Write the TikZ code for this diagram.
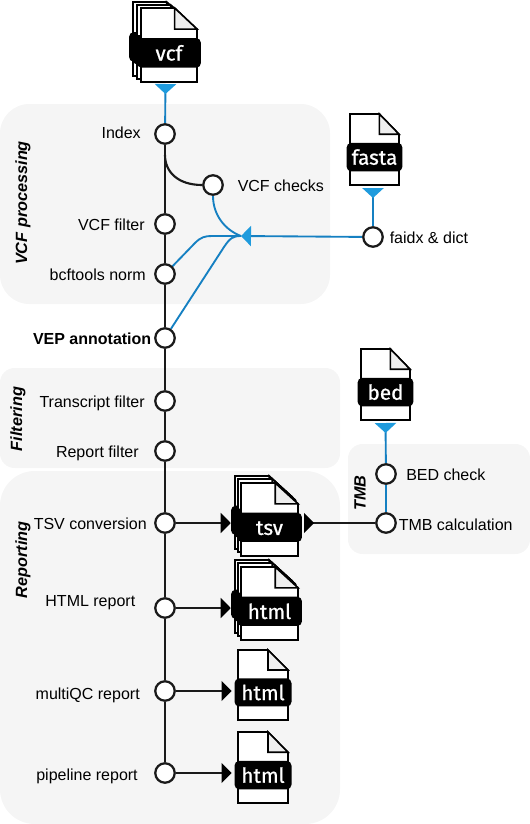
\documentclass[tikz,border=0pt]{standalone}
\usepackage{fontspec}
\setmainfont{Liberation Sans}
\newfontfamily\docfont[FakeBold=0.9]{Fira Sans}
\usetikzlibrary{arrows.meta}
\definecolor{panelgray}{HTML}{F5F5F5}
\definecolor{foldgray}{HTML}{EEEEEE}
\definecolor{linedark}{HTML}{1A1A1A}
\definecolor{lineblue}{HTML}{1580C2}
\definecolor{tipblue}{HTML}{1F9BDD}
\pgfdeclarelayer{panels}
\pgfdeclarelayer{lines}
\pgfsetlayers{panels,lines,main}
\tikzset{
  panel/.style={fill=panelgray,draw=none},
  stepdot/.style={circle,draw=linedark,fill=white,line width=1.7pt,minimum size=14.6pt,inner sep=0pt},
  lbl/.style={font=\fontsize{12}{14}\selectfont,inner sep=0pt},
  lblr/.style={lbl,anchor=base east},
  lbll/.style={lbl,anchor=base west},
  grp/.style={font=\fontsize{12.2}{14}\selectfont\bfseries\itshape,rotate=90,inner sep=0pt},
  main line/.style={draw=linedark,line width=1.6pt},
  out line/.style={draw=linedark,line width=1.1pt},
  blue line/.style={draw=lineblue,line width=1.4pt},
  black tip/.style={-{Triangle[length=7.5pt,width=15pt,color=black]}},
  back tip/.style={{Triangle[reversed,length=7.5pt,width=15pt,color=black]}-},
  blue start/.style={{Triangle[reversed,length=7.5pt,width=16pt,color=tipblue]}-},
  blue end/.style={-{Triangle[length=7.5pt,width=15pt,color=tipblue]}},
  docpage/.style={draw=black,fill=white,line width=1.2pt,line join=miter},
  docfold/.style={draw=black,fill=foldgray,line width=1.2pt},
  doclabel/.style={fill=black,text=white,rounded corners=3.5pt,inner sep=0pt,font=\docfont\fontsize{15.5}{16}\selectfont}
}
% name, left, top, width, height, text
\newcommand{\docicon}[6]{%
  \pgfmathsetmacro{\dl}{#2}\pgfmathsetmacro{\dt}{#3}%
  \pgfmathsetmacro{\dr}{#2+#4}\pgfmathsetmacro{\db}{#3+#5}%
  \pgfmathsetmacro{\fx}{#2+0.6*#4}\pgfmathsetmacro{\fy}{#3+0.285*#5}%
  \pgfmathsetmacro{\cx}{#2+0.5*#4}\pgfmathsetmacro{\cy}{#3+0.607*#5}%
  \pgfmathsetmacro{\lw}{1.14*#4*0.75}\pgfmathsetmacro{\lh}{0.4*#5*0.75}%
  \path[docpage] (\dl,\dt) -- (\fx,\dt) -- (\dr,\fy) -- (\dr,\db) -- (\dl,\db) -- cycle;
  \path[docfold] (\fx,\dt) -- (\dr,\fy) -- (\fx,\fy) -- cycle;
  \node[doclabel,minimum width=\lw pt,minimum height=\lh pt] (#1) at (\cx,\cy) {\vphantom{h}#6};
}
\begin{document}
\begin{tikzpicture}[x=0.75pt,y=-0.75pt]
\useasboundingbox (0,0) rectangle (530,824);
\begin{pgfonlayer}{panels}
  \path[panel,rounded corners=22pt] (0,104) rectangle (330,304);
  \path[panel,rounded corners=11pt] (0,368) rectangle (340,468);
  \path[panel,rounded corners=26pt] (0,471) rectangle (340,824);
  \path[panel,rounded corners=11pt] (348,444) rectangle (530,554);
\end{pgfonlayer}

\node[grp] (gvcf) at (23,203) {VCF processing};
\node[grp] (gfilt) at (18,419) {Filtering};
\node[grp] (grep) at (23,560) {Reporting};
\node[grp] (gtmb) at (360,493) {TMB};

\foreach \nm/\yy in {index/134,vcffilter/224,norm/274,vep/338,transcript/401,report/451,tsvc/523,htmlr/608,multiqc/691,pipeline/773}
  \node[stepdot] (\nm) at (165,\yy) {};
\node[stepdot] (checks) at (213,185) {};
\node[stepdot] (faidx) at (373,237) {};
\node[stepdot] (bedcheck) at (386,474) {};
\node[stepdot] (tmb) at (386,523) {};

\node[lblr] (tindex) at (141,138) {Index};
\node[lbll] (tchecks) at (237.5,191) {VCF checks};
\node[lblr] (tfilter) at (145,230) {VCF filter};
\node[lblr] (tnorm) at (146,280) {bcftools norm};
\node[lblr,font=\fontsize{12}{14}\selectfont\bfseries] (tvep) at (151.5,344) {VEP annotation};
\node[lblr] (ttrans) at (145,407) {Transcript filter};
\node[lblr] (trep) at (139,457) {Report filter};
\node[lblr] (ttsv) at (147,529) {TSV conversion};
\node[lblr] (thtml) at (135.5,606) {HTML report};
\node[lblr] (tmq) at (140,699) {multiQC report};
\node[lblr] (tpipe) at (138,780) {pipeline report};
\node[lbll] (tfaidx) at (389.5,243) {faidx \& dict};
\node[lbll] (tbed) at (406,480) {BED check};
\node[lbll] (ttmb) at (398.5,530) {TMB calculation};

% document icons
\docicon{vcfa}{133}{2}{56}{74}{}
\docicon{vcfb}{137}{5}{56}{74}{}
\docicon{vcf}{141}{8}{56}{74}{vcf}
\docicon{fasta}{350}{114}{49}{71}{fasta}
\docicon{bed}{361}{349}{49}{71}{bed}
\docicon{tsva}{235}{476}{57}{73}{}
\docicon{tsvb}{238}{479}{57}{73}{}
\docicon{tsv}{241}{483}{57}{73}{tsv}
\docicon{htmla}{235}{560}{57}{73}{}
\docicon{htmlb}{238}{563}{57}{73}{}
\docicon{html}{241}{567}{57}{73}{html}
\docicon{htmlq}{238}{650}{50}{70}{html}
\docicon{htmlp}{238}{732}{50}{71}{html}

\coordinate (vcftip) at (165.5,84);
\coordinate (fastatip) at (373,188);
\coordinate (bedtip) at (385.5,423);
\coordinate (merge) at (241,236);

\begin{pgfonlayer}{lines}
  \draw[main line] (index) -- (vcffilter);
  \draw[main line] (vcffilter) -- (norm);
  \draw[main line] (norm) -- (vep);
  \draw[main line] (vep) -- (transcript);
  \draw[main line] (transcript) -- (report);
  \draw[main line] (report) -- (tsvc);
  \draw[main line] (tsvc) -- (htmlr);
  \draw[main line] (htmlr) -- (multiqc);
  \draw[main line] (multiqc) -- (pipeline);
  \draw[main line] (165,155) .. controls (165,172) and (178,185) .. (checks.west);

  \draw[out line,black tip] (tsvc) -- (tsva.west |- tsvc);
  \draw[out line,black tip] (htmlr) -- (htmla.west |- htmlr);
  \draw[out line,black tip,shorten >=2pt] (multiqc) -- (htmlq.west |- multiqc);
  \draw[out line,black tip,shorten >=2pt] (pipeline) -- (htmlp.west |- pipeline);
  \draw[out line,back tip] (304,523) -- (tmb);

  \draw[blue line,blue start] (vcftip) -- (index);
  \draw[blue line,blue start] (fastatip) -- (faidx);
  \draw[blue line,blue start] (bedtip) -- (bedcheck);
  \draw[blue line] (bedcheck) -- (tmb);
  \draw[blue line,blue end] (faidx) -- (merge);
  \draw[blue line] (checks) .. controls (213,215) and (225,230) .. (merge);
  \draw[blue line] (norm) -- (195,243) .. controls (201,237) and (205,236) .. (212,236) -- (merge);
  \draw[blue line] (vep) -- (224,247) .. controls (230,238) and (233,236) .. (merge);
\end{pgfonlayer}
\end{tikzpicture}
\end{document}
